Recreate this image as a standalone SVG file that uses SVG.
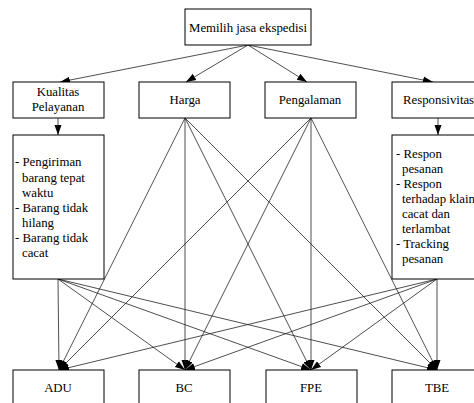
<svg xmlns="http://www.w3.org/2000/svg" width="474" height="403" viewBox="0 0 474 403">
<style>
.box{fill:#fff;stroke:#000;stroke-width:1}
.t{font-family:"Liberation Serif","Times New Roman",serif;font-size:12.8px;fill:#000}
.c{text-anchor:middle}
.ln{stroke:#222;stroke-width:0.8;fill:none;marker-end:url(#ah)}
</style>
<defs>
<marker id="ah" markerUnits="userSpaceOnUse" markerWidth="10" markerHeight="10" viewBox="0 0 10 10" refX="10" refY="5" orient="auto">
<path d="M0,1.5 L10,5 L0,8.5 Z" fill="#000"/>
</marker>
</defs>
<rect width="474" height="403" fill="#fff"/>
<g id="connectors">
<line class="ln" x1="248" y1="45" x2="60" y2="82"/>
<line class="ln" x1="248" y1="45" x2="186" y2="82"/>
<line class="ln" x1="248" y1="45" x2="307" y2="82"/>
<line class="ln" x1="248" y1="45" x2="433" y2="82"/>
<line class="ln" x1="58" y1="118" x2="58" y2="135"/>
<line class="ln" x1="438" y1="118" x2="438" y2="135"/>
<line class="ln" x1="58" y1="279" x2="59" y2="370"/>
<line class="ln" x1="58" y1="279" x2="185" y2="370"/>
<line class="ln" x1="58" y1="279" x2="311" y2="370"/>
<line class="ln" x1="58" y1="279" x2="437" y2="370"/>
<line class="ln" x1="185" y1="118" x2="59" y2="370"/>
<line class="ln" x1="185" y1="118" x2="185" y2="370"/>
<line class="ln" x1="185" y1="118" x2="311" y2="370"/>
<line class="ln" x1="185" y1="118" x2="437" y2="370"/>
<line class="ln" x1="311" y1="118" x2="59" y2="370"/>
<line class="ln" x1="311" y1="118" x2="185" y2="370"/>
<line class="ln" x1="311" y1="118" x2="311" y2="370"/>
<line class="ln" x1="311" y1="118" x2="437" y2="370"/>
<line class="ln" x1="437" y1="279" x2="59" y2="370"/>
<line class="ln" x1="437" y1="279" x2="185" y2="370"/>
<line class="ln" x1="437" y1="279" x2="311" y2="370"/>
<line class="ln" x1="437" y1="279" x2="437" y2="370"/>
</g>
<g id="root">
<rect class="box" x="185" y="9" width="126" height="36"/>
<text class="t c" x="248" y="32">Memilih jasa ekspedisi</text>
</g>
<g id="kualitas">
<rect class="box" x="13" y="82" width="91" height="36"/>
<text class="t c" x="58" y="96">Kualitas</text>
<text class="t c" x="58" y="111">Pelayanan</text>
</g>
<g id="harga">
<rect class="box" x="139" y="82" width="91" height="36"/>
<text class="t c" x="185" y="104">Harga</text>
</g>
<g id="pengalaman">
<rect class="box" x="265" y="82" width="91" height="36"/>
<text class="t c" x="310" y="104">Pengalaman</text>
</g>
<g id="responsivitas">
<rect class="box" x="392" y="82" width="92" height="36"/>
<text class="t" x="403" y="104">Responsivitas</text>
</g>
<g id="kualitas-detail">
<rect class="box" x="13" y="135" width="91" height="144"/>
<text class="t" x="15" y="166">- Pengiriman</text>
<text class="t" x="22" y="182">barang tepat</text>
<text class="t" x="22" y="197">waktu</text>
<text class="t" x="15" y="212">- Barang tidak</text>
<text class="t" x="22" y="227">hilang</text>
<text class="t" x="15" y="242">- Barang tidak</text>
<text class="t" x="22" y="257">cacat</text>
</g>
<g id="responsivitas-detail">
<rect class="box" x="392" y="135" width="92" height="144"/>
<text class="t" x="396" y="158">- Respon</text>
<text class="t" x="402" y="173">pesanan</text>
<text class="t" x="396" y="188">- Respon</text>
<text class="t" x="402" y="203">terhadap klain</text>
<text class="t" x="402" y="218">cacat dan</text>
<text class="t" x="402" y="233">terlambat</text>
<text class="t" x="396" y="248">- Tracking</text>
<text class="t" x="402" y="263">pesanan</text>
</g>
<g id="adu">
<rect class="box" x="13" y="370" width="91" height="40"/>
<text class="t c" x="58" y="392">ADU</text>
</g>
<g id="bc">
<rect class="box" x="139" y="370" width="91" height="40"/>
<text class="t c" x="184" y="392">BC</text>
</g>
<g id="fpe">
<rect class="box" x="266" y="370" width="91" height="40"/>
<text class="t c" x="311" y="392">FPE</text>
</g>
<g id="tbe">
<rect class="box" x="392" y="370" width="92" height="40"/>
<text class="t c" x="437" y="392">TBE</text>
</g>
</svg>
